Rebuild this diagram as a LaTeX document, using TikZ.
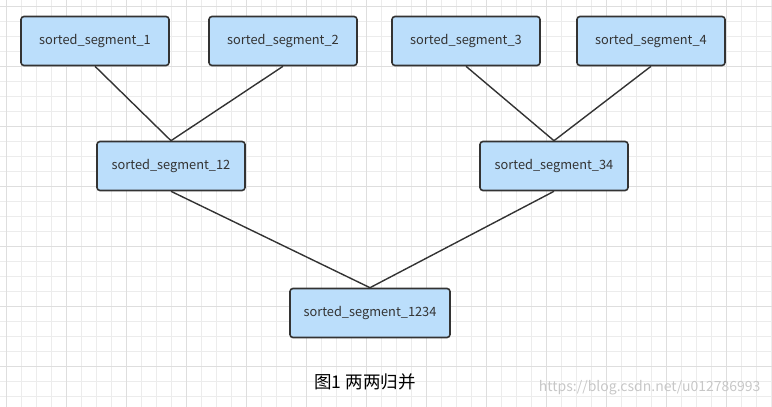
\documentclass[tikz,border=0pt]{standalone}
\usepackage{fontspec}
\setmainfont{Noto Sans CJK SC}
\definecolor{segfill}{RGB}{187,222,251}
\definecolor{segline}{RGB}{51,51,51}
\definecolor{gridlight}{RGB}{236,236,236}
\definecolor{griddark}{RGB}{222,222,222}
\begin{document}
\begin{tikzpicture}[x=1pt,y=-1pt]
       \tikzstyle{segnode}=[draw=segline, line width=1.6pt, fill=segfill, rounded corners=3pt,
         minimum width=148pt, minimum height=49pt, text=segline, font=\fontsize{12.8}{15}\selectfont]
       \tikzstyle{merge}=[draw=segline, line width=1.4pt]
       \useasboundingbox (0,0) rectangle (772,407);
       % background grid
       \begin{scope}
        \clip (0,0) rectangle (772,407);
        \draw[gridlight, line width=0.8pt, shift={(6.7,6.7)}] (-15,-15) grid[step=15pt] (780,420);
        \draw[griddark, line width=0.8pt, shift={(6.7,6.7)}] (-60,-60) grid[step=60pt] (780,420);
       \end{scope}
       \node[segnode] (seg1) at (95,41) {sorted\_segment\_1};
       \node[segnode] (seg2) at (283,41) {sorted\_segment\_2};
       \node[segnode] (seg3) at (466,41) {sorted\_segment\_3};
       \node[segnode] (seg4) at (651,41) {sorted\_segment\_4};
       \node[segnode] (seg12) at (171,166) {sorted\_segment\_12};
       \node[segnode] (seg34) at (554,166) {sorted\_segment\_34};
       \node[segnode, minimum width=160pt] (seg1234) at (370,313) {sorted\_segment\_1234};
       \draw[merge] (seg1.south) -- (seg12.north);
       \draw[merge] (seg2.south) -- (seg12.north);
       \draw[merge] (seg3.south) -- (seg34.north);
       \draw[merge] (seg4.south) -- (seg34.north);
       \draw[merge] (seg12.south) -- (seg1234.north);
       \draw[merge] (seg34.south) -- (seg1234.north);
       \node[text=black, font=\fontsize{17.5}{20}\selectfont] (caption) at (365,382) {图1 两两归并};
       \node[anchor=east, text=black!22, font=\fontsize{14}{16}\selectfont] (mark) at (764,388) {https://blog.csdn.net/u012786993};
      \end{tikzpicture}
\end{document}
